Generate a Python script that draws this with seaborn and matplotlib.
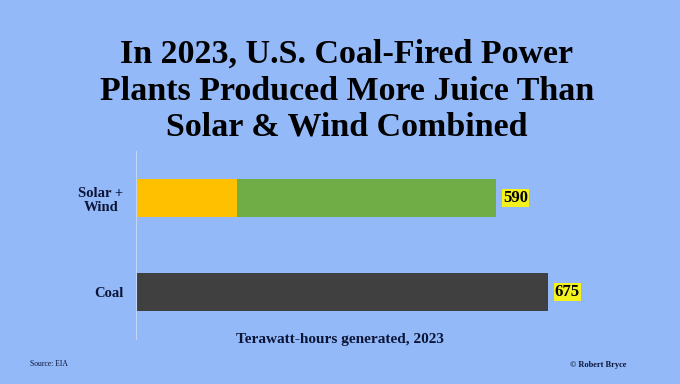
import seaborn as sns
import pandas as pd
from matplotlib import pyplot as plt

categories = ["Solar +\nWind", "Coal"]
solar = [165, 0]
wind = [425, 0]
coal = [0, 675]
totals = [590, 675]

bg = "#94b9f8"
navy = "#0b1538"

sns.set_style("white")
plt.rcParams['font.family'] = ['Liberation Serif', 'DejaVu Serif']
plt.rcParams['font.weight'] = 'bold'

fig = plt.figure(figsize=(6.8, 3.84), dpi=100, facecolor=bg)
ax = fig.add_axes([136 / 680, 1 - 339 / 384, (620 - 136) / 680, 188 / 384])
ax.set_facecolor(bg)

df = pd.DataFrame({"cat": categories, "total": totals, "solar": solar})
sns.barplot(data=df, x="total", y="cat", hue="cat", order=categories,
            palette=["#70ad47", "#404040"], width=0.4, linewidth=0,
            saturation=1, legend=False, ax=ax)
sns.barplot(data=df, x="solar", y="cat", order=categories,
            color="#ffc000", width=0.4, linewidth=0, saturation=1, ax=ax)
for p in ax.patches:
    p.set_alpha(1)

ax.set_xlim(0, (620 - 136) / 0.6104)
ax.set_ylim(1.5, -0.5)

for i, v in enumerate(totals):
    ax.text(v + 11, i, str(v), va="center", ha="left", fontsize=12,
            fontweight="bold", color="black",
            bbox=dict(boxstyle="square,pad=0.05", fc="#f4f21c", ec="none"))

ax.set_xticks([])
ax.set_xlabel("")
ax.set_ylabel("")
ax.tick_params(axis="y", length=0, pad=9)
ax.set_yticks(range(len(categories)))
ax.set_yticklabels(categories, fontsize=10.5, fontweight="bold", color=navy,
                   multialignment="center", linespacing=1.1)
for s in ["top", "right", "bottom"]:
    ax.spines[s].set_visible(False)
ax.spines["left"].set_color("#c3d6f7")
ax.spines["left"].set_linewidth(0.8)

fig.text(347 / 680, 1 - 91 / 384, "In 2023, U.S. Coal-Fired Power\n"
         "Plants Produced More Juice Than\nSolar & Wind Combined",
         ha="center", va="center", fontsize=24.5, fontweight="bold",
         color="black", linespacing=1.22)
fig.text(340 / 680, 1 - 340 / 384, "Terawatt-hours generated, 2023",
         ha="center", va="center", fontsize=11, fontweight="bold", color=navy)
fig.text(30 / 680, 1 - 364 / 384, "Source: EIA", ha="left", va="center",
         fontsize=5.5, fontweight="normal", color=navy)
fig.text(626 / 680, 1 - 365 / 384, "© Robert Bryce", ha="right", va="center",
         fontsize=6, fontweight="bold", color=navy)

plt.savefig("out.png", dpi=100, facecolor=bg)
